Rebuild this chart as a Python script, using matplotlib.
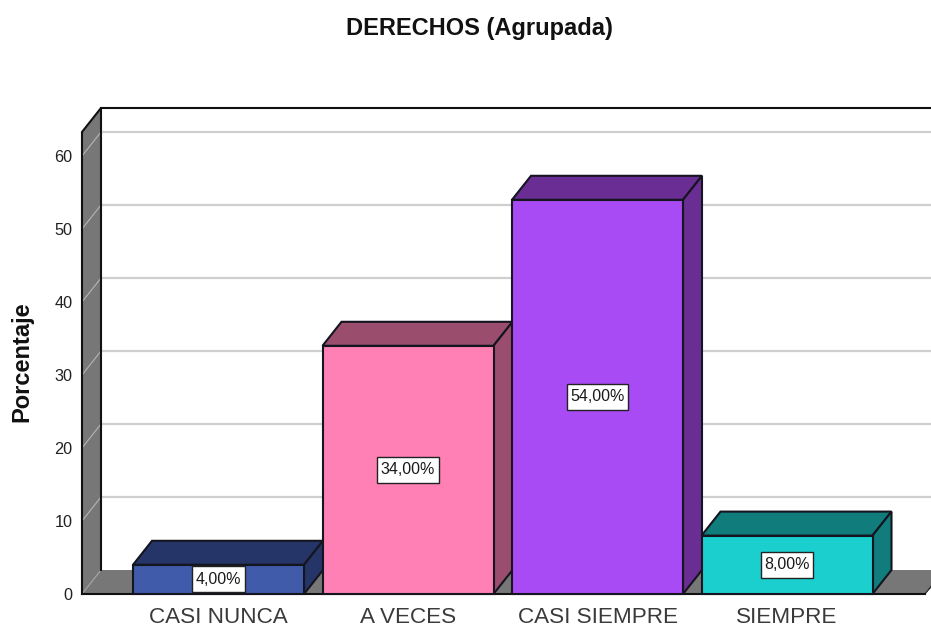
import matplotlib
matplotlib.use("Agg")
import matplotlib.pyplot as plt
from matplotlib.patches import Polygon, Rectangle

categories = ["CASI NUNCA", "A VECES", "CASI SIEMPRE", "SIEMPRE"]
percentages = [4, 34, 54, 8]
front_colors = ["#3F5BA9", "#FF80B5", "#A94BF5", "#1BCFCF"]
side_colors = ["#263567", "#9B4D6E", "#6A2D94", "#107C7C"]
y_ticks = [0, 10, 20, 30, 40, 50, 60]

W, H = 931, 628
plt.rcParams["font.family"] = ["Liberation Sans", "DejaVu Sans"]
fig = plt.figure(figsize=(W / 100, H / 100), dpi=100, facecolor="white")

# plot area in pixels
left, right, top, bottom = 82, 931, 108, 594
ax = fig.add_axes([left / W, 1 - bottom / H, (right - left) / W, (bottom - top) / H])
px_per_unit = 7.3
px_per_cat = 189.5
x0_px = 218.5
ax.set_xlim((left - x0_px) / px_per_cat, (right - x0_px) / px_per_cat)
ax.set_ylim(0, (bottom - top) / px_per_unit)
for s in ax.spines.values():
    s.set_visible(False)

dx = 19 / px_per_cat   # depth offset, x
dy = 24 / px_per_unit  # depth offset, y
bar_w = 171 / px_per_cat
xl, xr = ax.get_xlim()
ymax = ax.get_ylim()[1]
wall_x = xl + dx
line = 1.5
GREY = "#777777"


def poly(pts, fc, ec="none", lw=0, z=1):
    ax.add_patch(Polygon(pts, closed=True, facecolor=fc, edgecolor=ec, linewidth=lw,
                         zorder=z, clip_on=False, joinstyle="miter"))


# back wall grid
for t in y_ticks[1:]:
    ax.plot([wall_x, xr], [t + dy, t + dy], color="#CFCFCF", lw=1.6, zorder=1, clip_on=False)

# left wall
poly([(xl, 0), (wall_x, dy), (wall_x, ymax), (xl, ymax - dy)], GREY, z=2)
for t in y_ticks[1:]:
    ax.plot([xl, wall_x], [t, t + dy], color="#B5B5B5", lw=0.8, zorder=2.1, clip_on=False)

# floor
floor_right = xr - 6 / px_per_cat
poly([(xl, 0), (wall_x, dy), (xr + dx, dy), (floor_right, 0)], GREY, z=2)
ax.plot([xl, wall_x], [0, dy], color="#A5A5A5", lw=0.8, zorder=2.2, clip_on=False)
ax.plot([floor_right, xr], [0, dy * (6 / 19)], color="#222222", lw=0.8, zorder=2.2)

# wall outlines
ax.plot([xl, xl, wall_x, xr], [0, ymax - dy, ymax, ymax], color="#111111", lw=line,
        zorder=3, clip_on=False, solid_joinstyle="miter")
ax.plot([wall_x, wall_x], [dy, ymax], color="#111111", lw=line, zorder=3, clip_on=False)
ax.plot([xl, floor_right], [0, 0], color="#111111", lw=line, zorder=3, clip_on=False)

# bars
renderer = fig.canvas.get_renderer()
for i, (v, fc, sc) in enumerate(zip(percentages, front_colors, side_colors)):
    a, b = i - bar_w / 2, i + bar_w / 2
    z = 4 + i
    ec = "#15151F"
    poly([(a, v), (a + dx, v + dy), (b + dx, v + dy), (b, v)], sc, ec, line, z)
    poly([(b, 0), (b + dx, dy), (b + dx, v + dy), (b, v)], sc, ec, line, z)
    ax.bar(i, v, width=bar_w, color=fc, edgecolor=ec, linewidth=line, zorder=z + 0.1,
           clip_on=False)
    label = ax.text(i, v / 2, f"{v:.2f}".replace(".", ",") + "%", ha="center", va="center",
                    fontsize=11.5, color="#1A1A1A", zorder=21)
    box_w = (label.get_window_extent(renderer).width + 7) / px_per_cat
    box_h = 26 / px_per_unit
    ax.add_patch(Rectangle((i - box_w / 2, v / 2 - box_h / 2), box_w, box_h, facecolor="white",
                           edgecolor="#222222", linewidth=1.0, zorder=20, clip_on=False))

ax.set_xticks(range(len(categories)), categories)
ax.set_yticks(y_ticks, [str(t) for t in y_ticks])
ax.tick_params(axis="x", length=0, pad=9.3, labelsize=16.2, labelcolor="#3A3A3A")
ax.tick_params(axis="y", length=0, pad=7, labelsize=11.7, labelcolor="#222222")

fig.text(479 / W, 1 - 28 / H, "DERECHOS (Agrupada)", ha="center", va="center",
         fontsize=17, fontweight="bold", color="#111111")
fig.text(22 / W, 1 - 362 / H, "Porcentaje", ha="center", va="center", rotation=90,
         fontsize=17, fontweight="bold", color="#111111")

fig.savefig("out.png", dpi=100, facecolor="white")
